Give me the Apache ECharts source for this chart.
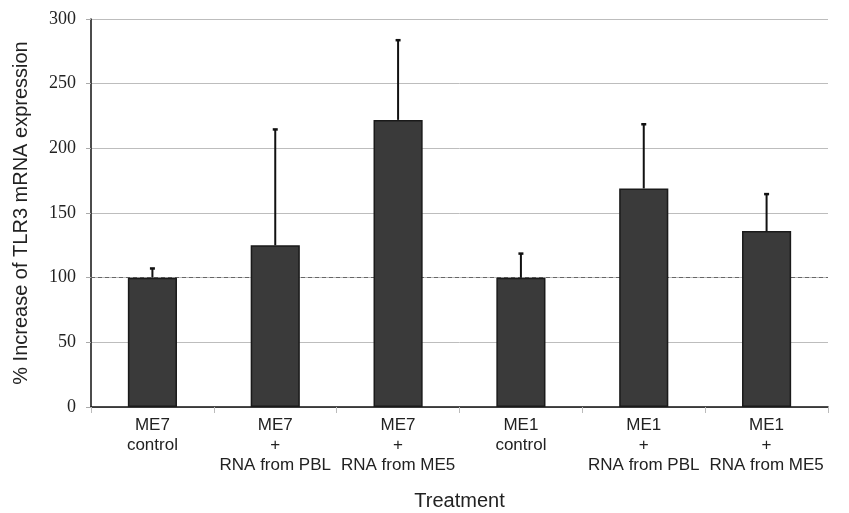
<!DOCTYPE html>
<html><head><meta charset="utf-8">
<script src="https://cdn.jsdelivr.net/npm/echarts@6/dist/echarts.min.js"></script>
<style>html,body{margin:0;padding:0;background:#fff}#c{width:849px;height:513px}</style>
</head><body><div id="c"></div>
<script>
const categories = ["ME7\ncontrol", "ME7\n+\nRNA from PBL", "ME7\n+\nRNA from ME5", "ME1\ncontrol", "ME1\n+\nRNA from PBL", "ME1\n+\nRNA from ME5"];
const values = [100, 125, 222, 100, 169, 136];
const errorTops = [107.5, 215, 284, 119, 219, 165];
const yTicks = [0, 50, 100, 150, 200, 250, 300];
const referenceLevel = 100;

const chart = echarts.init(document.getElementById('c'));
chart.setOption({
  animation: false,
  grid: {left: 91, right: 21, top: 19, bottom: 106, containLabel: false, outerBoundsMode: 'none'},
  xAxis: {
    type: 'category', data: categories,
    name: 'Treatment', nameLocation: 'middle', nameGap: 84,
    nameTextStyle: {fontFamily: 'Liberation Sans', fontSize: 20, color: '#222'},
    axisLine: {lineStyle: {color: '#111', width: 1.5}},
    axisTick: {show: true, length: 6, lineStyle: {color: '#bbb'}},
    axisLabel: {fontFamily: 'Liberation Sans', fontSize: 17, color: '#222', lineHeight: 20, margin: 8, interval: 0}
  },
  yAxis: {
    type: 'value', min: yTicks[0], max: yTicks[yTicks.length-1], interval: 50,
    name: '% Increase of TLR3 mRNA expression', nameLocation: 'middle', nameGap: 60,
    nameTextStyle: {fontFamily: 'Liberation Sans', fontSize: 20, color: '#222'},
    axisLine: {show: true, lineStyle: {color: '#111', width: 1.5}},
    axisTick: {show: true, length: 5, lineStyle: {color: '#aaa'}},
    axisLabel: {fontFamily: 'Liberation Serif', fontSize: 18, color: '#222', margin: 15},
    splitLine: {lineStyle: {color: '#bdbdbd', width: 1}}
  },
  series: [
    {
      type: 'bar', data: values, barWidth: '40%', z: 3,
      itemStyle: {color: '#3a3a3a', borderColor: '#1a1a1a', borderWidth: 1.5},
      markLine: {
        silent: true, symbol: 'none', z: 1,
        lineStyle: {color: '#666', type: [4, 3], width: 1},
        label: {show: false},
        data: [{yAxis: referenceLevel}]
      }
    },
    {
      type: 'custom', z: 4,
      data: values.map((v, i) => [i, v, errorTops[i]]),
      renderItem: function (params, api) {
        const base = api.coord([api.value(0), api.value(1)]);
        const top = api.coord([api.value(0), api.value(2)]);
        return {
          type: 'group',
          children: [
            {type: 'line', shape: {x1: base[0], y1: base[1], x2: top[0], y2: top[1]}, style: {stroke: '#111', lineWidth: 2}},
            {type: 'line', shape: {x1: top[0] - 2.5, y1: top[1] + 0.5, x2: top[0] + 2.5, y2: top[1] + 0.5}, style: {stroke: '#111', lineWidth: 2.5}}
          ]
        };
      }
    }
  ]
});
</script></body></html>
